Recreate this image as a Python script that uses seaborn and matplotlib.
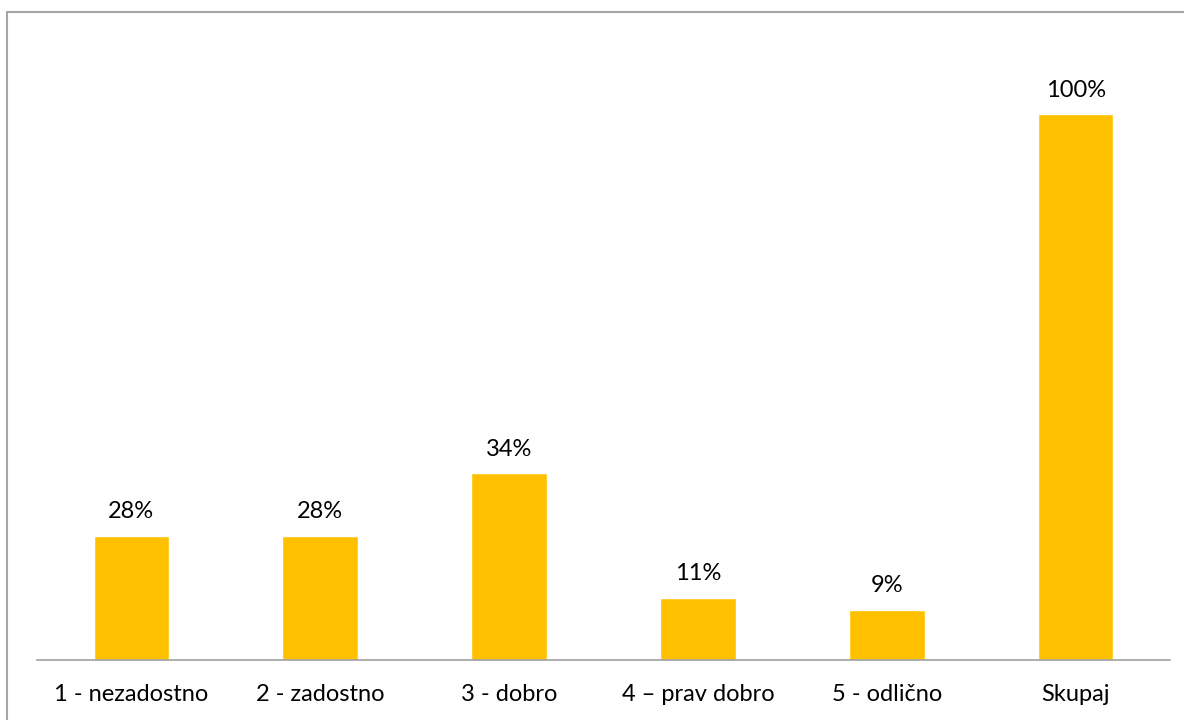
import matplotlib
matplotlib.use("Agg")
import matplotlib.pyplot as plt
import seaborn as sns
import pandas as pd
from matplotlib.patches import Rectangle

categories = ["1 - nezadostno", "2 - zadostno", "3 - dobro", "4 – prav dobro", "5 - odlično", "Skupaj"]
values = [22.7, 22.7, 34.2, 11.4, 9.1, 100.0]
value_labels = ["28%", "28%", "34%", "11%", "9%", "100%"]

sns.set_theme(style="white")
plt.rcParams["font.family"] = ["Lato", "DejaVu Sans"]

W, H = 1184, 720
fig = plt.figure(figsize=(W / 100, H / 100), dpi=100)
left, right, bottom, top = 37, 1170, 660, 30
ax = fig.add_axes([left / W, 1 - bottom / H, (right - left) / W, (bottom - top) / H])

df = pd.DataFrame({"cat": categories, "val": values})
sns.barplot(data=df, x="cat", y="val", color="#FFC000", saturation=1, width=0.4, ax=ax)
ax.set_ylim(0, (bottom - top) / 5.456)
ax.set_xlim(-0.5, len(categories) - 0.5)

ax.bar_label(ax.containers[0], labels=value_labels, padding=10, fontsize=17, color="#000000")

for s in ["top", "left", "right"]:
    ax.spines[s].set_visible(False)
ax.spines["bottom"].set_color("#A0A0A0")
ax.spines["bottom"].set_linewidth(1.2)
ax.set_yticks([])
ax.set_xlabel("")
ax.set_ylabel("")
ax.tick_params(axis="x", length=0, pad=17, labelsize=17, labelcolor="#000000")

# outer chart border (top and left visible)
fig.patches.append(Rectangle((6.5 / W, -0.1), 1.2, 1 - 11.5 / H + 0.1, transform=fig.transFigure,
                             fill=False, edgecolor="#A6A6A6", linewidth=1.5))

fig.savefig("out.png", dpi=100)
